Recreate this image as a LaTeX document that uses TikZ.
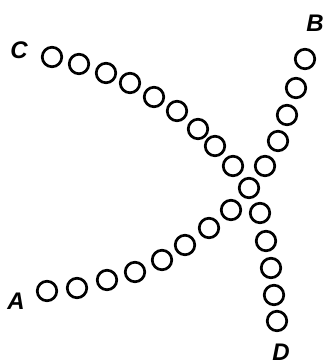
\documentclass[tikz,border=0pt]{standalone}
\usepackage{fontspec}
\setmainfont{Liberation Sans}
\begin{document}
\begin{tikzpicture}[x=1pt,y=-1pt,
  bead/.style={circle,draw=black,line width=2.7pt,minimum size=19.5pt,inner sep=0pt},
  lab/.style={font=\fontsize{24}{24}\selectfont\bfseries\itshape,inner sep=0pt}]
\useasboundingbox (0,0) rectangle (326,364);
% centre bead
\node[bead] (m) at (249,188) {};
% chain from C
\foreach \x/\y [count=\i] in {52/57,79/64,106/73,130/83,154/97,177/111,198/129,215/146,233/166}
  \node[bead] (c\i) at (\x,\y) {};
% chain from A
\foreach \x/\y [count=\i] in {47/291,77/288,107/280,135/272,162/260,185/245,209/228,231/210}
  \node[bead] (a\i) at (\x,\y) {};
% chain from B
\foreach \x/\y [count=\i] in {305/59,296/88,287/115,278/141,265/166}
  \node[bead] (b\i) at (\x,\y) {};
% chain to D
\foreach \x/\y [count=\i] in {260/213,266/241,271/268,274/295,277/321}
  \node[bead] (d\i) at (\x,\y) {};
\node[lab] (lc) at (19,50) {C};
\node[lab] (lb) at (315,23) {B};
\node[lab] (la) at (16,301) {A};
\node[lab] (ld) at (281,352) {D};
\end{tikzpicture}
\end{document}
